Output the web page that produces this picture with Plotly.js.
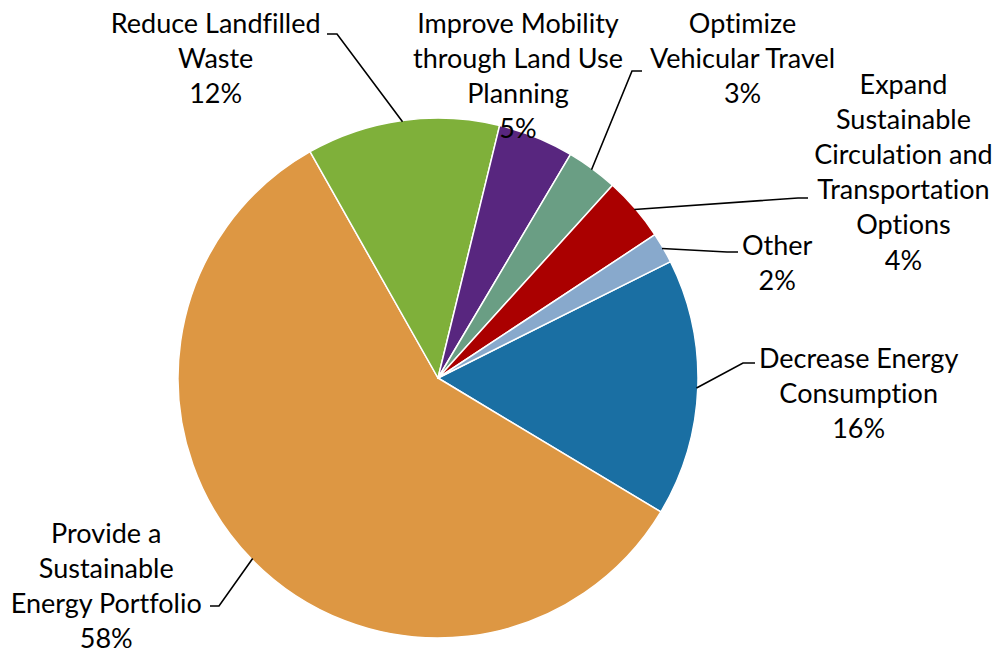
<!DOCTYPE html>
<html>
<head>
<meta charset="utf-8">
<script src="https://cdn.plot.ly/plotly-3.0.1.min.js"></script>
<style>
html,body{margin:0;padding:0;background:#fff;}
#chart{width:997px;height:656px;}
#chart text{font-variant-ligatures:none !important;font-feature-settings:"liga" 0,"clig" 0 !important;}
</style>
</head>
<body>
<div id="chart"></div>
<script>
// Data
var categories = [
  "Decrease Energy Consumption",
  "Provide a Sustainable Energy Portfolio",
  "Reduce Landfilled Waste",
  "Improve Mobility through Land Use Planning",
  "Optimize Vehicular Travel",
  "Expand Sustainable Circulation and Transportation Options",
  "Other"
];
var values = [16.0, 58.2, 12.0, 4.7, 3.2, 4.0, 1.9];
var pctLabels = ["16%", "58%", "12%", "5%", "3%", "4%", "2%"];
var labelLines = [
  ["Decrease Energy", "Consumption"],
  ["Provide a", "Sustainable", "Energy Portfolio"],
  ["Reduce Landfilled", "Waste"],
  ["Improve Mobility", "through Land Use", "Planning"],
  ["Optimize", "Vehicular Travel"],
  ["Expand", "Sustainable", "Circulation and", "Transportation", "Options"],
  ["Other"]
];
var colors = ["#1a6fa3", "#dd9743", "#7fb03a", "#58267f", "#6a9e84", "#aa0000", "#88a9cc"];

// Layout geometry
var W = 997, H = 656;
var dom = {x: [178 / W, 698 / W], y: [1 - 638 / H, 1 - 118 / H]};
var rotation = 63.4;

// Label placement (pixel centers) and elbow points for leader lines
var labelPos = [
  {x: 858, y: 392},
  {x: 106, y: 585},
  {x: 215, y: 57},
  {x: 518, y: 75},
  {x: 742, y: 57},
  {x: 903, y: 171},
  {x: 777, y: 262}
];
var elbows = [
  [[755, 363], [743, 363]],
  [[210, 606], [219, 606]],
  [[327, 34], [337, 34]],
  null,
  [[642, 71], [632, 71]],
  [[808, 198], [798, 198]],
  [[738, 252], [727, 252]]
];

var cx = (dom.x[0] + dom.x[1]) / 2 * W;
var cy = (1 - (dom.y[0] + dom.y[1]) / 2) * H;
var r = Math.min((dom.x[1] - dom.x[0]) * W, (dom.y[1] - dom.y[0]) * H) / 2;
var total = values.reduce(function (a, b) { return a + b; }, 0);

function px(x) { return x / W; }
function py(y) { return 1 - y / H; }

var annotations = [];
var shapes = [];
var cum = 0;
for (var i = 0; i < values.length; i++) {
  var mid = rotation + (cum + values[i] / 2) / total * 360;
  cum += values[i];
  var a = mid * Math.PI / 180;
  var ex = cx + r * 0.995 * Math.sin(a);
  var ey = cy - r * 0.995 * Math.cos(a);
  annotations.push({
    xref: "paper", yref: "paper",
    x: px(labelPos[i].x), y: py(labelPos[i].y),
    xanchor: "center", yanchor: "middle",
    text: labelLines[i].concat([pctLabels[i]]).join("<br>"),
    showarrow: false, align: "center",
    font: {family: "Lato, 'Open Sans', sans-serif", size: 27, color: "#000"}
  });
  if (elbows[i]) {
    var e = elbows[i];
    shapes.push({
      type: "path", xref: "paper", yref: "paper",
      path: "M " + px(e[0][0]) + "," + py(e[0][1]) +
            " L " + px(e[1][0]) + "," + py(e[1][1]) +
            " L " + px(ex) + "," + py(ey),
      line: {color: "#000", width: 1.6}
    });
  }
}

var trace = {
  type: "pie",
  labels: categories,
  values: values,
  sort: false,
  direction: "clockwise",
  rotation: rotation,
  domain: dom,
  textinfo: "none",
  marker: {colors: colors, line: {color: "#ffffff", width: 1.5}},
  showlegend: false
};

var layout = {
  width: W, height: H,
  margin: {l: 0, r: 0, t: 0, b: 0},
  paper_bgcolor: "#fff",
  showlegend: false,
  annotations: annotations,
  shapes: shapes
};

Plotly.newPlot("chart", [trace], layout, {displayModeBar: false, staticPlot: true});
</script>
</body>
</html>
